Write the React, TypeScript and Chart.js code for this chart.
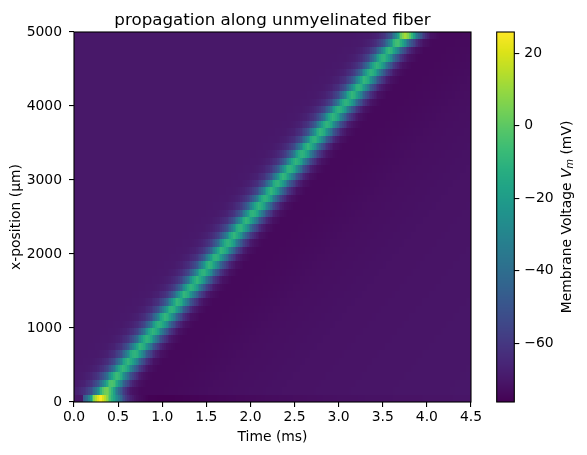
import React, { useEffect, useRef } from "react";
import { Chart, registerables } from "chart.js";

Chart.register(...registerables);

// ---------- text ----------
const chartTitle = "propagation along unmyelinated fiber";
const xAxisLabel = "Time (ms)";
const yAxisLabel = "x-position (\u00b5m)";

// ---------- axes ----------
const timeRangeMs = [0, 4.5];
const fiberRangeUm = [0, 5000];
const voltageRangeMv = [-76.2, 25.9];
const timeTicksMs = [0, 0.5, 1.0, 1.5, 2.0, 2.5, 3.0, 3.5, 4.0, 4.5];
const positionTicksUm = [0, 1000, 2000, 3000, 4000, 5000];
const voltageTicksMv = [-60, -40, -20, 0, 20];

// ---------- data ----------
const sampleStepMs = 0.02;
const segmentLengthUm = 100;
const segmentStartUm = [
  0, 100, 200, 300, 400, 500, 600, 700, 800, 900,
  1000, 1100, 1200, 1300, 1400, 1500, 1600, 1700, 1800, 1900,
  2000, 2100, 2200, 2300, 2400, 2500, 2600, 2700, 2800, 2900,
  3000, 3100, 3200, 3300, 3400, 3500, 3600, 3700, 3800, 3900,
  4000, 4100, 4200, 4300, 4400, 4500, 4600, 4700, 4800, 4900,
];
// time of the spike peak in each segment (ms)
const spikePeakTimeMs = [
  0.31, 0.36, 0.42, 0.48, 0.55, 0.61, 0.68, 0.75, 0.82, 0.89,
  0.96, 1.03, 1.10, 1.17, 1.25, 1.32, 1.39, 1.46, 1.53, 1.60,
  1.67, 1.74, 1.81, 1.88, 1.95, 2.02, 2.09, 2.16, 2.23, 2.30,
  2.37, 2.44, 2.51, 2.58, 2.65, 2.72, 2.79, 2.86, 2.93, 3.00,
  3.08, 3.15, 3.22, 3.29, 3.36, 3.43, 3.50, 3.57, 3.66, 3.75,
];
// peak voltage reached in each segment (mV)
const spikePeakMv = [
  26, 5, -2, -6, -8, -9, -9, -9, -9, -9,
  -9, -9, -9, -9, -9, -9, -9, -9, -9, -9,
  -9, -9, -9, -9, -9, -9, -9, -9, -9, -9,
  -9, -9, -9, -9, -9, -9, -9, -9, -9, -9,
  -9, -9, -9, -9, -9, -9, -9, -8, -4, 12,
];
const restingMv = -70;
// shape of the travelling spike, relative to its peak time
const spikeOffsetMs = [-0.6, -0.4, -0.3, -0.22, -0.16, -0.11, -0.07, -0.035, 0, 0.035, 0.07, 0.11, 0.15, 0.2, 0.25, 0.3, 0.4, 0.6, 0.9, 1.3, 2.0, 3.0, 4.0];
const spikeShapeMv = [-70, -69.3, -67, -62, -54, -42, -28, -15, -9, -12, -21, -35, -48, -59, -67, -71.5, -74, -74, -73.5, -72.5, -71.5, -70.8, -70.3];
// stimulated first segment
const stimTimeMs = [0, 0.09, 0.1, 0.15, 0.19, 0.23, 0.28, 0.31, 0.36, 0.42, 0.49, 0.55, 0.6, 0.7, 0.85, 1.1, 1.5, 2.2, 3.0, 4.5];
const stimTraceMv = [-70, -70, -50, -40, -20, 8, 24, 26, 12, -8, -28, -48, -62, -72, -76, -76.2, -75, -73.3, -72, -70.8];

// ---------- colormap (viridis) ----------
const viridisStops = [
  "#440154", "#481567", "#482677", "#453781", "#3f4788", "#39558c", "#32648e",
  "#2d718e", "#287d8e", "#238a8d", "#1f968b", "#20a386", "#29af7f", "#3cbc75",
  "#56c667", "#75d054", "#95d840", "#bade28", "#dde318", "#fde725",
];
const stopRgb = viridisStops.map((h) => [
  parseInt(h.slice(1, 3), 16),
  parseInt(h.slice(3, 5), 16),
  parseInt(h.slice(5, 7), 16),
]);
function viridis(v: number): string {
  let f = (v - voltageRangeMv[0]) / (voltageRangeMv[1] - voltageRangeMv[0]);
  f = Math.max(0, Math.min(1, f));
  const p = f * (stopRgb.length - 1);
  const i = Math.min(stopRgb.length - 2, Math.floor(p));
  const w = p - i;
  const a = stopRgb[i], b = stopRgb[i + 1];
  const c = a.map((ai, k) => Math.round(ai + (b[k] - ai) * w));
  return `rgb(${c[0]},${c[1]},${c[2]})`;
}

function interp(xs: number[], ys: number[], x: number): number {
  if (x <= xs[0]) return ys[0];
  const n = xs.length;
  if (x >= xs[n - 1]) return ys[n - 1];
  for (let i = 0; i < n - 1; i++) {
    if (x <= xs[i + 1]) {
      const w = (x - xs[i]) / (xs[i + 1] - xs[i]);
      return ys[i] + (ys[i + 1] - ys[i]) * w;
    }
  }
  return ys[n - 1];
}

const shapePeak = interp(spikeOffsetMs, spikeShapeMv, 0);

function segmentVoltage(seg: number, t: number): number {
  if (seg === 0) return interp(stimTimeMs, stimTraceMv, t);
  const base = interp(spikeOffsetMs, spikeShapeMv, t - spikePeakTimeMs[seg]);
  if (base <= restingMv) return base;
  const k = (spikePeakMv[seg] - restingMv) / (shapePeak - restingMv);
  return restingMv + (base - restingMv) * k;
}

type Cell = { x: number; y: number; t0: number; t1: number; p0: number; p1: number; color: string };

function buildCells(): Cell[] {
  const cells: Cell[] = [];
  const nT = Math.round((timeRangeMs[1] - timeRangeMs[0]) / sampleStepMs);
  segmentStartUm.forEach((p0, seg) => {
    for (let j = 0; j < nT; j++) {
      const t0 = timeRangeMs[0] + j * sampleStepMs;
      const t1 = t0 + sampleStepMs;
      const tc = (t0 + t1) / 2;
      cells.push({
        x: tc,
        y: p0 + segmentLengthUm / 2,
        t0,
        t1,
        p0,
        p1: p0 + segmentLengthUm,
        color: viridis(segmentVoltage(seg, tc)),
      });
    }
  });
  return cells;
}

const FONT = "'DejaVu Sans', sans-serif";
const fmtMinus = (s: string) => s.replace("-", "\u2212");

const heatmapPlugin = {
  id: "heatmap",
  beforeDatasetsDraw(chart: any) {
    const { ctx, chartArea: a, scales } = chart;
    const xs = scales.x, ys = scales.y;
    ctx.save();
    ctx.beginPath();
    ctx.rect(a.left, a.top, a.right - a.left, a.bottom - a.top);
    ctx.clip();
    for (const c of chart.data.datasets[0].data as Cell[]) {
      const x0 = Math.round(xs.getPixelForValue(c.t0));
      const x1 = Math.round(xs.getPixelForValue(c.t1));
      const y0 = Math.round(ys.getPixelForValue(c.p1));
      const y1 = Math.round(ys.getPixelForValue(c.p0));
      ctx.fillStyle = c.color;
      ctx.fillRect(x0, y0, x1 - x0, y1 - y0);
    }
    ctx.restore();
  },
  afterDatasetsDraw(chart: any) {
    const { ctx, chartArea: a } = chart;
    ctx.save();
    ctx.strokeStyle = "#000";
    ctx.lineWidth = 1.1;
    ctx.strokeRect(a.left, a.top, a.right - a.left, a.bottom - a.top);
    ctx.restore();
  },
  afterDraw(chart: any) {
    const { ctx, chartArea: a } = chart;
    ctx.save();
    ctx.fillStyle = "#000";
    ctx.font = `16.7px ${FONT}`;
    ctx.textAlign = "center";
    ctx.textBaseline = "alphabetic";
    ctx.fillText(chartTitle, (a.left + a.right) / 2, 25);
    ctx.restore();
  },
};

const colorbarPlugin = {
  id: "colorbar",
  beforeDatasetsDraw(chart: any) {
    const { ctx, chartArea: a, scales } = chart;
    const ys = scales.y;
    const top = Math.floor(a.top);
    const bottom = Math.ceil(a.bottom);
    ctx.save();
    for (let py = top; py < bottom; py++) {
      const v = ys.getValueForPixel(py + 0.5);
      ctx.fillStyle = viridis(v);
      ctx.fillRect(a.left, py, a.right - a.left, 1);
    }
    ctx.strokeStyle = "#000";
    ctx.lineWidth = 1.1;
    ctx.strokeRect(a.left, a.top, a.right - a.left, a.bottom - a.top);
    ctx.restore();
  },
  afterDraw(chart: any) {
    const { ctx, chartArea: a } = chart;
    const parts = [
      { text: "Membrane Voltage ", font: `13.9px ${FONT}`, dy: 0 },
      { text: "V", font: `italic 13.9px ${FONT}`, dy: 0 },
      { text: "m", font: `italic 9.7px ${FONT}`, dy: 2.6 },
      { text: " (mV)", font: `13.9px ${FONT}`, dy: 0 },
    ];
    ctx.save();
    let total = 0;
    for (const p of parts) {
      ctx.font = p.font;
      total += ctx.measureText(p.text).width;
    }
    ctx.translate(86, (a.top + a.bottom) / 2);
    ctx.rotate(-Math.PI / 2);
    ctx.fillStyle = "#000";
    ctx.textBaseline = "alphabetic";
    ctx.textAlign = "left";
    let x = -total / 2;
    for (const p of parts) {
      ctx.font = p.font;
      ctx.fillText(p.text, x, 4.5 + p.dy);
      x += ctx.measureText(p.text).width;
    }
    ctx.restore();
  },
};

export default function App() {
  const mainRef = useRef<HTMLCanvasElement | null>(null);
  const barRef = useRef<HTMLCanvasElement | null>(null);

  useEffect(() => {
    document.body.style.margin = "0";
    const tickFont = { family: FONT, size: 13.9 };
    const main = new Chart(mainRef.current as HTMLCanvasElement, {
      type: "scatter",
      data: {
        datasets: [
          {
            data: buildCells() as any,
            pointRadius: 0,
            pointHoverRadius: 0,
          },
        ],
      },
      options: {
        animation: false,
        responsive: false,
        events: [],
        layout: { padding: { top: 32, right: 116, bottom: 0, left: 0 } },
        plugins: { legend: { display: false }, tooltip: { enabled: false } },
        scales: {
          x: {
            type: "linear",
            min: timeRangeMs[0],
            max: timeRangeMs[1],
            afterBuildTicks: (s: any) => {
              s.ticks = timeTicksMs.map((v) => ({ value: v }));
            },
            afterFit: (s: any) => {
              s.height = 53;
            },
            ticks: {
              font: tickFont,
              color: "#000",
              padding: 2,
              maxRotation: 0,
              autoSkip: false,
              callback: (v: any) => Number(v).toFixed(1),
            },
            grid: { drawOnChartArea: false, drawTicks: true, tickLength: 5, color: "#000", lineWidth: 1.1 },
            border: { display: false },
            title: { display: true, text: xAxisLabel, font: tickFont, color: "#000", padding: { top: 0, bottom: 9 } },
          },
          y: {
            type: "linear",
            min: fiberRangeUm[0],
            max: fiberRangeUm[1],
            afterBuildTicks: (s: any) => {
              s.ticks = positionTicksUm.map((v) => ({ value: v }));
            },
            afterFit: (s: any) => {
              s.width = 74;
            },
            ticks: {
              font: tickFont,
              color: "#000",
              padding: 7,
              autoSkip: false,
              callback: (v: any) => String(v),
            },
            grid: { drawOnChartArea: false, drawTicks: true, tickLength: 5, color: "#000", lineWidth: 1.1 },
            border: { display: false },
            title: { display: true, text: yAxisLabel, font: tickFont, color: "#000", padding: { top: 8.2, bottom: 0 } },
          },
        },
      },
      plugins: [heatmapPlugin],
    });

    const bar = new Chart(barRef.current as HTMLCanvasElement, {
      type: "scatter",
      data: { datasets: [{ data: [], pointRadius: 0 }] },
      options: {
        animation: false,
        responsive: false,
        events: [],
        layout: { padding: { top: 32, right: 0, bottom: 53, left: 16.7 } },
        plugins: { legend: { display: false }, tooltip: { enabled: false } },
        scales: {
          x: { display: false, min: 0, max: 1 },
          y: {
            type: "linear",
            position: "right",
            min: voltageRangeMv[0],
            max: voltageRangeMv[1],
            afterBuildTicks: (s: any) => {
              s.ticks = voltageTicksMv.map((v) => ({ value: v }));
            },
            afterFit: (s: any) => {
              s.width = 107 - 34.3;
            },
            ticks: {
              font: tickFont,
              color: "#000",
              padding: 5,
              autoSkip: false,
              callback: (v: any) => fmtMinus(String(v)),
            },
            grid: { drawOnChartArea: false, drawTicks: true, tickLength: 5, color: "#000", lineWidth: 1.1 },
            border: { display: false },
          },
        },
      },
      plugins: [colorbarPlugin],
    });

    return () => {
      main.destroy();
      bar.destroy();
    };
  }, []);

  return (
    <div style={{ position: "absolute", left: 0, top: 0, width: 587, height: 455, background: "#fff" }}>
      <canvas ref={mainRef} width={587} height={455} style={{ position: "absolute", left: 0, top: 0 }} />
      <canvas ref={barRef} width={107} height={455} style={{ position: "absolute", left: 480, top: 0 }} />
    </div>
  );
}
